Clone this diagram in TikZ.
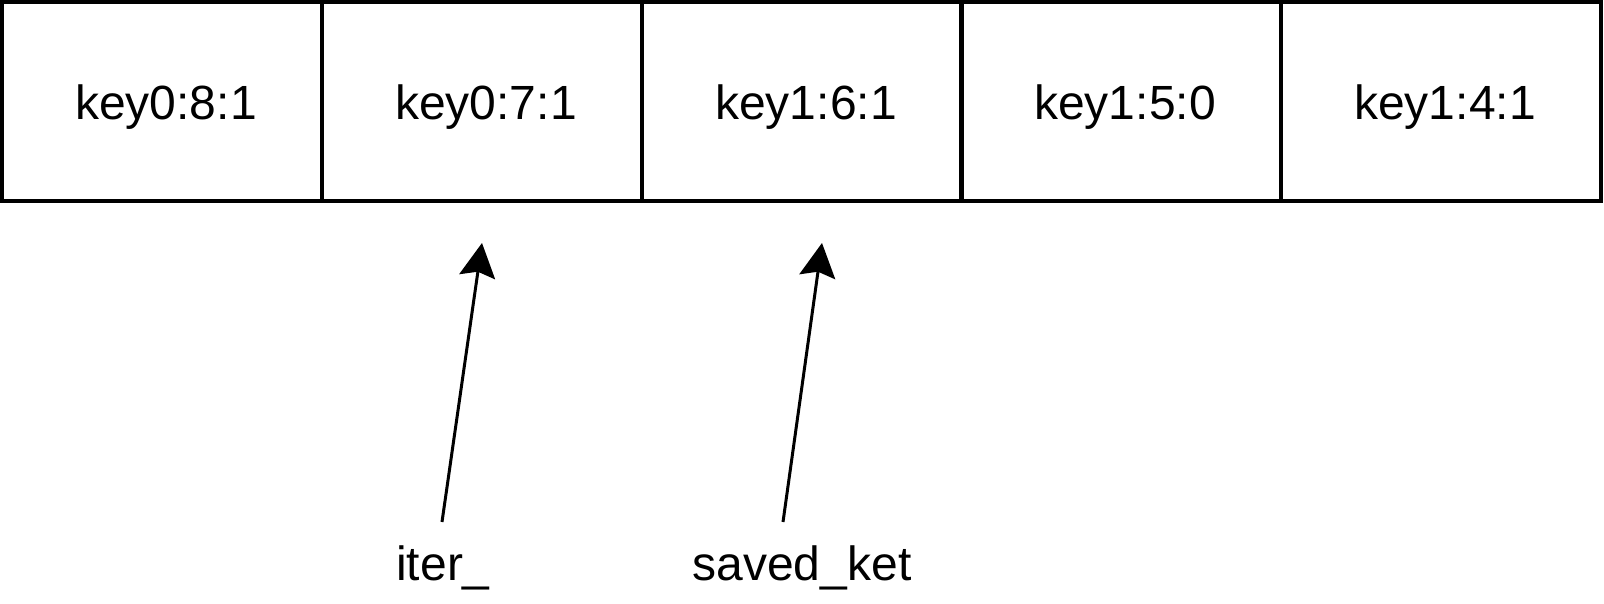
\documentclass[tikz,border=0pt]{standalone}
\usepackage{fontspec}
\setmainfont{Liberation Sans}
\usetikzlibrary{arrows.meta}
\begin{document}
\begin{tikzpicture}[x=1pt,y=-1pt,
  cell/.style={draw=black,line width=4pt,minimum width=320pt,minimum height=199pt,inner sep=0pt,anchor=center},
  celltext/.style={font=\fontsize{48}{54}\selectfont,inner sep=0pt,text height=36pt,text depth=0pt,anchor=center},
  lbl/.style={font=\fontsize{48}{54}\selectfont,inner sep=0pt,anchor=base},
  ptr/.style={line width=3pt,-{Stealth[length=34pt,width=36pt,inset=5pt]}}]
\useasboundingbox (0,0) rectangle (1604,604);
\node[cell] (c0) at (162,101.5) {};
\node[cell] (c1) at (482,101.5) {};
\node[cell] (c2) at (802,101.5) {};
\node[cell] (c3) at (1121,101.5) {};
\node[cell] (c4) at (1441,101.5) {};
\node[celltext] (k0) at ([xshift=4pt]c0.center) {key0:8:1};
\node[celltext] (k1) at ([xshift=4pt]c1.center) {key0:7:1};
\node[celltext] (k2) at ([xshift=4pt]c2.center) {key1:6:1};
\node[celltext] (k3) at ([xshift=4pt]c3.center) {key1:5:0};
\node[celltext] (k4) at ([xshift=4pt]c4.center) {key1:4:1};
\node[lbl] (l1) at (443,580) {iter\_};
\node[lbl] (l2) at (802,580) {saved\_ket};
\coordinate (s1) at (442,522);
\coordinate (t1) at (482,243);
\coordinate (s2) at (783,522);
\coordinate (t2) at (822,243);
\draw[ptr] (s1) -- (t1);
\draw[ptr] (s2) -- (t2);
\end{tikzpicture}
\end{document}
